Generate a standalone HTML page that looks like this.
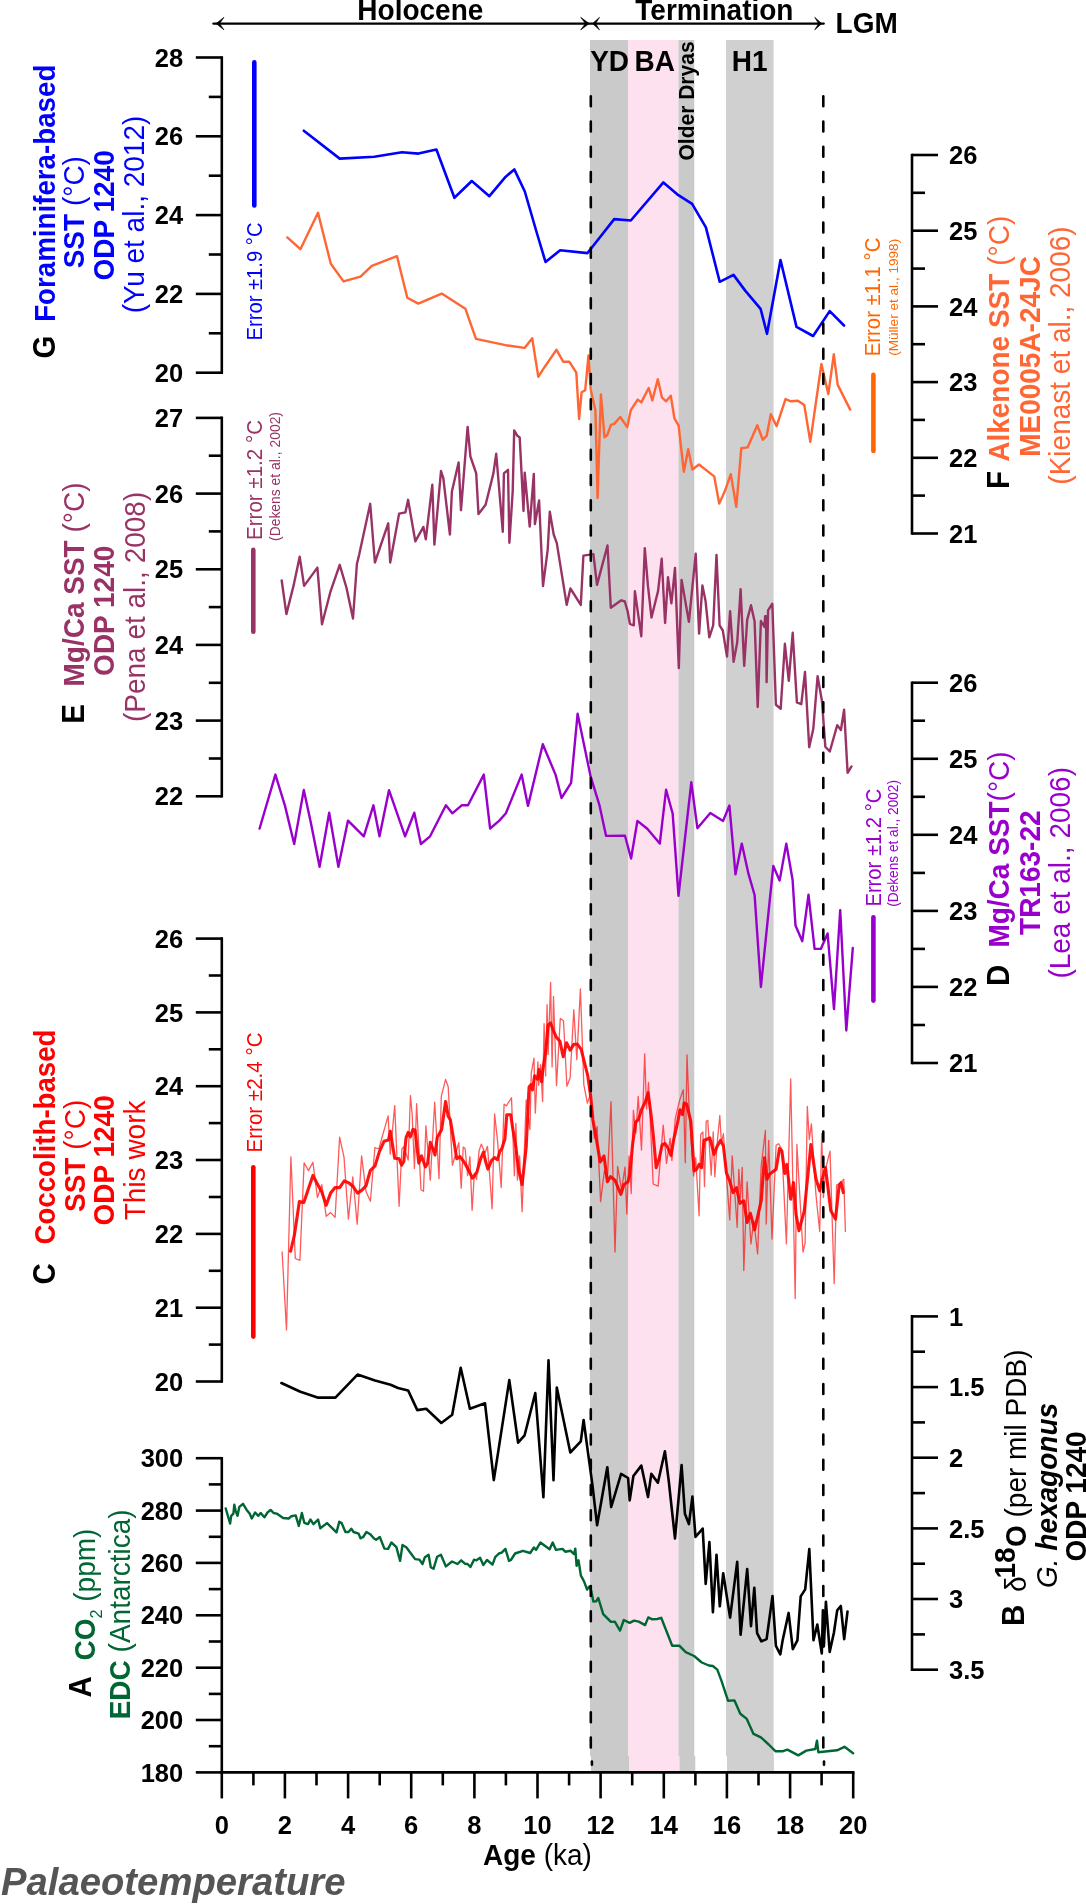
<!DOCTYPE html>
<html><head><meta charset="utf-8"><style>html,body{margin:0;padding:0;background:#fff;overflow:hidden;}svg{display:block;will-change:transform;}</style></head><body>
<svg width="1086" height="1904" viewBox="0 0 1086 1904" font-family='"Liberation Sans", sans-serif'>
<rect x="0" y="0" width="1086" height="1904" fill="#ffffff"/>
<rect x="590.0" y="40.0" width="38.0" height="1716.0" fill="#CACACA"/>
<rect x="591.0" y="1756.0" width="38.0" height="15.0" fill="#CACACA"/>
<rect x="628.0" y="40.0" width="50.5" height="1716.0" fill="#FDE1EF"/>
<rect x="629.0" y="1756.0" width="50.5" height="15.0" fill="#FDE1EF"/>
<rect x="678.5" y="40.0" width="15.8" height="1716.0" fill="#CACACA"/>
<rect x="679.5" y="1756.0" width="15.8" height="15.0" fill="#CACACA"/>
<rect x="726.0" y="40.0" width="47.6" height="1716.0" fill="#D0D0D0"/>
<rect x="727.0" y="1756.0" width="46.9" height="15.0" fill="#D0D0D0"/>
<polyline points="303.8,130.7 339.7,158.6 374.3,156.7 401.9,152.3 418.5,153.6 436.4,149.5 454.4,197.8 471.8,181.0 489.4,196.2 505.5,176.9 514.3,169.4 524.8,191.5 537.0,233.5 545.5,261.9 560.2,250.3 587.4,253.1 590.7,249.0 614.2,219.1 630.8,220.5 663.4,182.4 677.2,194.3 692.1,203.9 705.9,227.4 719.7,281.8 733.5,274.9 745.4,290.9 760.6,308.9 767.0,333.8 780.5,260.0 796.5,326.9 813.1,336.0 829.7,311.1 844.0,325.5" fill="none" stroke="#0000FF" stroke-width="2.6" stroke-linejoin="round" stroke-linecap="round"/>
<polyline points="287.3,237.4 300.4,249.2 318.0,212.8 330.8,263.8 343.5,281.4 360.5,276.6 371.8,265.9 397.0,256.2 407.3,297.8 418.3,303.6 441.7,293.6 465.4,308.8 476.0,338.9 505.5,345.2 524.6,347.9 532.2,338.3 538.3,376.8 543.5,368.6 556.5,349.8 563.2,361.7 569.3,361.7 576.3,372.6 579.1,419.0 581.6,392.2 585.2,390.2 588.5,355.4 590.7,389.4 595.4,410.1 597.6,498.0 600.9,394.4 604.5,437.2 607.3,435.0 610.9,424.8 614.2,423.9 620.3,417.0 627.2,427.2 630.8,410.1 637.7,399.6 641.3,402.4 648.7,388.0 652.3,400.4 657.8,379.2 662.0,397.7 666.1,401.3 670.8,395.7 674.4,418.4 678.6,425.3 683.8,471.7 688.2,449.3 692.4,469.5 699.0,464.5 714.2,476.4 719.2,503.5 724.7,491.6 730.8,474.2 736.3,506.8 741.3,448.2 747.6,447.4 757.3,425.3 762.8,439.7 766.7,435.8 770.8,414.3 776.6,426.1 785.5,399.1 791.0,401.3 797.9,400.7 804.3,405.1 810.3,441.9 821.4,364.0 828.3,394.1 833.8,354.3 837.7,384.9 850.2,409.6" fill="none" stroke="#FF6633" stroke-width="2.4" stroke-linejoin="round" stroke-linecap="round"/>
<polyline points="281.7,580.5 286.4,614.1 293.5,585.9 299.7,556.7 304.1,585.9 317.4,567.6 322.0,624.3 330.3,592.2 339.7,564.8 346.4,587.5 353.0,618.5 356.9,564.0 359.2,554.6 370.2,503.8 374.9,562.5 388.2,523.3 390.2,562.5 399.1,513.6 405.4,512.4 408.1,499.8 415.3,541.3 423.4,526.9 425.8,539.3 432.3,484.8 434.4,544.6 441.0,471.0 443.3,478.1 449.9,534.5 451.9,491.4 458.6,462.4 461.0,510.2 467.6,426.9 470.4,456.5 476.2,473.4 478.5,514.1 485.6,504.7 493.4,473.4 496.2,453.8 502.8,531.8 503.9,473.4 508.0,469.8 509.4,542.7 512.7,491.4 514.2,430.4 517.4,435.8 519.7,437.4 523.5,511.0 524.7,472.6 529.7,526.6 533.8,473.9 534.9,524.0 539.1,500.5 543.0,586.1 547.7,549.8 549.8,511.8 553.7,534.5 556.8,543.1 566.7,604.9 570.4,588.5 580.8,604.9 583.4,555.6 593.4,554.1 597.0,584.9 607.5,545.5 610.8,607.8 621.3,600.3 624.8,601.5 627.6,611.2 629.9,623.8 633.8,625.3 634.9,591.3 641.3,636.3 644.8,548.1 647.9,585.4 651.5,617.5 658.1,590.9 661.7,558.8 665.1,623.0 668.0,577.3 671.4,603.4 675.0,567.9 678.8,668.1 681.6,579.9 688.9,621.9 695.7,553.8 699.1,633.6 702.4,585.4 705.5,600.7 709.3,637.4 713.2,625.3 716.5,554.9 719.6,625.3 722.8,630.5 727.0,656.6 730.1,611.2 733.6,661.8 737.2,642.5 740.6,589.3 744.2,665.9 747.2,619.9 751.0,605.2 754.6,621.6 757.7,707.0 760.9,621.0 764.5,627.0 765.1,616.3 766.1,616.3 766.6,682.1 768.1,610.3 772.3,603.7 775.9,704.8 780.7,708.7 784.9,643.8 788.8,680.9 792.7,632.8 796.9,702.4 801.3,704.2 805.0,671.9 809.2,747.3 813.3,728.8 817.6,676.1 822.0,701.2 825.3,746.7 829.8,751.5 837.2,725.2 840.9,730.0 844.1,709.6 847.6,772.8 851.5,766.4" fill="none" stroke="#993366" stroke-width="2.4" stroke-linejoin="round" stroke-linecap="round"/>
<polyline points="259.6,828.5 275.4,774.6 285.0,805.9 294.2,844.0 303.8,789.9 310.8,822.5 319.6,866.7 329.2,812.7 338.4,866.7 348.0,820.6 363.8,836.3 373.4,805.3 379.5,836.3 389.0,790.2 405.1,836.3 414.3,812.7 420.9,844.0 430.1,836.3 445.9,805.3 452.3,813.3 461.7,805.3 468.0,805.3 483.8,774.6 490.1,828.5 499.3,820.6 505.9,813.3 521.6,774.6 528.0,805.9 542.8,744.2 555.7,775.1 561.5,798.0 571.1,782.9 577.6,713.8 590.6,776.4 599.3,804.6 606.1,835.9 625.0,835.8 631.1,858.5 637.4,820.9 647.3,828.7 659.8,843.6 666.1,789.7 672.7,813.8 678.5,895.8 691.3,782.3 697.4,828.2 710.3,812.9 723.1,820.9 729.4,805.5 735.5,874.3 741.8,843.6 748.5,873.9 754.6,895.0 760.9,987.0 767.9,918.2 773.3,866.0 779.6,880.6 786.3,843.6 792.6,880.0 795.5,925.6 802.3,941.2 808.5,894.6 814.6,948.9 820.8,948.9 827.6,933.4 834.0,1009.1 840.2,910.1 846.3,1030.5 852.8,948.0" fill="none" stroke="#9900CC" stroke-width="2.4" stroke-linejoin="round" stroke-linecap="round"/>
<polyline points="282.1,1251.9 286.5,1329.9 290.9,1156.8 295.3,1258.5 299.9,1260.3 304.1,1162.9 308.5,1170.6 312.9,1162.2 317.4,1197.5 321.8,1184.7 326.2,1216.3 330.6,1212.6 335.1,1217.4 339.6,1137.2 344.0,1157.1 348.4,1219.1 352.8,1176.9 357.2,1224.3 361.6,1155.9 366.0,1191.6 370.4,1201.2 374.9,1147.5 378.8,1149.0 388.1,1115.9 390.3,1154.1 394.7,1105.6 399.1,1206.3 401.9,1149.0 403.8,1146.8 408.2,1160.0 410.4,1095.6 412.2,1114.7 414.4,1168.4 416.6,1103.7 421.0,1189.7 423.5,1191.2 425.9,1125.7 430.3,1180.1 434.7,1102.2 439.0,1178.7 441.3,1096.3 445.6,1079.4 448.2,1086.8 452.4,1165.4 458.8,1142.6 461.2,1188.2 463.2,1147.1 465.1,1148.5 467.6,1175.7 469.9,1156.6 472.1,1210.3 474.4,1173.5 476.5,1179.4 479.1,1150.7 481.3,1144.1 485.0,1152.9 487.5,1146.3 492.1,1208.8 494.6,1114.0 497.5,1140.4 501.2,1187.5 504.1,1104.1 506.3,1105.9 511.5,1097.8 514.4,1175.7 515.9,1123.5 517.4,1180.1 519.6,1155.9 522.1,1211.8 526.2,1100.0 529.9,1129.4 531.3,1072.8 534.0,1058.1 535.3,1113.2 537.9,1061.8 538.7,1085.3 540.6,1064.7 542.6,1101.6 544.1,1023.7 545.6,1075.9 547.1,1004.6 548.1,1054.6 550.6,982.5 552.1,1067.1 553.5,996.5 556.5,1085.4 560.3,1018.5 563.5,1020.7 566.9,1086.2 570.1,1078.1 573.8,1009.7 576.8,1059.7 580.4,988.8 583.8,1084.7 587.4,1103.1 590.7,1093.5 594.4,1138.4 597.1,1126.6 600.6,1201.6 604.4,1170.7 607.4,1178.8 611.0,1101.6 615.0,1252.0 617.6,1166.3 621.6,1189.9 625.0,1167.1 626.8,1214.1 629.0,1156.0 631.2,1193.5 633.4,1110.4 635.9,1133.2 638.2,1096.5 641.5,1150.1 644.7,1053.8 646.6,1109.0 648.5,1082.5 653.2,1184.0 658.1,1186.2 663.2,1125.1 666.5,1163.4 670.1,1138.4 671.9,1160.4 675.3,1118.5 679.7,1100.1 683.3,1089.8 685.3,1162.7 687.0,1055.0 689.1,1108.0 693.6,1176.0 695.7,1157.7 699.1,1215.8 700.7,1134.5 702.9,1132.0 704.5,1186.7 706.2,1121.3 707.8,1120.4 711.2,1175.1 713.2,1132.0 714.8,1176.8 717.3,1142.0 719.8,1115.5 721.4,1142.8 723.4,1133.7 729.7,1219.9 732.2,1155.8 737.2,1227.4 738.8,1169.3 740.5,1197.5 742.2,1167.4 743.8,1270.5 747.1,1181.8 750.9,1243.9 753.8,1220.7 757.6,1253.9 761.2,1166.0 765.4,1130.4 766.2,1224.0 768.7,1140.3 772.0,1239.0 776.1,1145.3 778.6,1143.7 781.9,1149.5 786.4,1243.9 790.7,1079.0 795.2,1298.6 796.9,1144.5 803.0,1252.2 805.1,1243.1 807.3,1106.4 809.3,1139.5 811.4,1123.8 815.9,1194.2 819.7,1231.5 821.7,1133.7 823.4,1197.5 825.9,1167.7 830.0,1151.1 834.2,1283.7 836.6,1185.1 840.8,1182.6 843.8,1179.3 845.4,1231.5" fill="none" stroke="#FF0000" stroke-width="1.3" stroke-linejoin="round" stroke-linecap="round" stroke-opacity="0.65"/>
<polyline points="290.6,1251.2 294.3,1235.7 299.4,1201.5 303.8,1202.4 312.9,1175.4 317.1,1183.5 321.8,1192.1 326.2,1205.3 330.6,1193.1 335.1,1187.6 339.6,1187.6 344.3,1180.9 348.7,1182.8 353.1,1186.5 357.5,1193.1 361.9,1190.1 366.0,1185.7 370.4,1170.3 374.9,1166.2 379.3,1151.9 384.0,1141.3 388.4,1140.1 390.3,1131.3 394.7,1158.2 399.1,1158.8 401.6,1165.1 403.8,1161.5 406.0,1137.9 408.2,1132.4 410.4,1136.8 412.9,1129.4 415.1,1130.1 418.8,1163.2 421.5,1155.9 425.4,1166.9 427.6,1163.2 430.3,1142.4 432.8,1148.5 435.0,1155.1 437.2,1137.5 441.6,1129.7 445.6,1101.5 448.2,1116.2 450.4,1119.9 453.4,1138.2 456.8,1158.8 460.0,1156.6 464.4,1162.5 468.8,1170.6 472.5,1178.2 476.9,1172.1 480.6,1158.8 483.5,1152.2 485.7,1161.8 487.9,1169.1 491.6,1160.3 494.6,1157.6 497.5,1159.6 499.7,1151.5 501.9,1148.5 504.9,1139.0 506.8,1114.7 510.7,1114.7 512.9,1129.4 515.9,1147.8 518.5,1169.1 522.1,1184.6 526.2,1147.1 528.4,1100.0 529.1,1086.9 530.9,1084.7 532.4,1089.9 534.6,1075.9 537.6,1079.2 539.0,1069.6 541.6,1081.8 542.7,1070.7 545.7,1051.6 548.1,1025.1 550.6,1022.9 553.2,1030.3 556.2,1036.9 559.9,1041.3 563.2,1056.8 566.5,1042.8 570.1,1050.1 573.8,1044.3 577.5,1044.3 581.2,1049.4 584.1,1061.2 587.8,1075.9 590.7,1096.5 592.9,1120.0 595.6,1134.7 598.1,1149.4 600.3,1161.9 604.0,1156.0 607.4,1181.8 610.6,1176.6 615.0,1180.3 620.9,1194.3 623.8,1184.7 627.9,1181.8 629.7,1175.1 632.6,1144.3 635.6,1122.2 638.5,1119.3 641.5,1109.7 645.1,1102.4 648.1,1092.8 651.0,1114.1 653.2,1134.7 656.2,1167.8 659.1,1159.0 662.1,1145.0 665.0,1143.5 667.9,1147.9 670.9,1155.3 673.8,1139.1 677.5,1122.9 680.0,1109.7 682.5,1114.6 684.1,1103.0 686.6,1103.9 690.8,1121.3 694.1,1171.0 696.6,1169.3 699.1,1164.4 701.5,1167.7 704.0,1140.3 706.5,1139.5 709.8,1137.8 714.0,1154.4 716.8,1147.0 720.6,1140.3 723.4,1146.1 726.4,1172.7 729.7,1181.0 733.0,1192.6 736.4,1187.6 740.0,1203.3 743.8,1200.8 747.1,1222.4 750.4,1213.3 754.6,1229.8 761.2,1200.8 764.5,1157.7 767.0,1179.3 769.5,1174.3 776.1,1169.3 779.5,1148.6 781.9,1151.1 784.8,1173.5 786.9,1164.4 790.7,1199.2 793.5,1182.6 796.0,1214.1 799.0,1230.7 804.3,1210.8 810.9,1144.5 815.9,1178.5 819.7,1190.9 822.2,1179.3 825.5,1167.7 830.8,1210.8 835.5,1219.1 839.1,1185.9 841.1,1182.6 843.3,1192.6" fill="none" stroke="#FF0000" stroke-width="3.1" stroke-linejoin="round" stroke-linecap="round" stroke-opacity="0.92"/>
<polyline points="281.4,1383.0 300.4,1391.7 317.5,1397.6 335.4,1397.6 357.5,1374.6 375.0,1380.6 390.6,1384.7 398.0,1388.0 408.1,1390.4 417.3,1410.1 426.2,1408.8 441.3,1423.0 452.2,1414.7 460.7,1367.8 469.9,1408.8 485.0,1403.3 493.8,1480.1 509.3,1380.1 518.1,1442.7 524.6,1435.3 535.3,1393.0 543.4,1497.2 548.5,1360.4 553.5,1480.1 556.8,1387.5 570.3,1452.5 580.8,1441.4 583.6,1420.0 588.3,1454.8 592.4,1484.6 597.1,1525.3 607.3,1467.2 611.2,1507.0 621.1,1473.9 628.1,1478.0 629.7,1500.4 633.4,1476.0 641.3,1465.6 648.0,1497.1 651.3,1473.9 657.9,1482.7 664.9,1451.2 668.7,1480.5 675.0,1538.5 681.6,1465.1 684.9,1513.7 688.9,1524.1 692.4,1496.6 695.5,1536.9 702.7,1528.6 705.7,1583.9 709.4,1542.0 712.9,1612.1 716.5,1554.9 719.8,1606.3 723.2,1573.2 730.1,1617.6 737.2,1561.9 740.6,1634.8 747.2,1569.0 751.0,1626.2 754.3,1587.7 757.1,1633.2 761.3,1641.4 766.6,1639.1 772.5,1596.0 775.9,1645.8 780.3,1654.4 782.5,1641.1 788.6,1612.9 792.8,1649.1 797.4,1640.3 800.7,1596.4 805.2,1589.4 809.3,1549.1 813.5,1640.3 817.3,1624.5 821.8,1653.5 822.9,1610.4 823.9,1646.1 825.9,1601.7 829.7,1651.9 833.9,1632.8 837.2,1610.4 840.8,1606.0 844.2,1639.1 847.5,1611.6" fill="none" stroke="#000" stroke-width="2.6" stroke-linejoin="round" stroke-linecap="round"/>
<polyline points="225.7,1508.4 230.1,1523.5 231.2,1515.8 233.4,1513.6 234.3,1504.7 235.6,1510.6 237.5,1515.8 239.3,1506.9 243.0,1503.8 246.7,1509.9 249.6,1513.6 251.8,1518.5 255.1,1512.5 258.3,1515.8 260.7,1513.0 264.4,1517.3 267.5,1512.5 270.6,1509.9 273.6,1513.0 276.7,1513.6 283.1,1518.0 288.7,1518.5 291.4,1516.2 295.7,1515.4 298.8,1525.9 301.9,1513.0 304.3,1522.8 308.0,1524.1 310.4,1519.5 313.5,1524.1 318.1,1519.5 320.3,1528.3 327.0,1523.1 331.9,1527.8 336.5,1532.4 339.3,1521.7 341.7,1523.1 345.4,1532.0 348.5,1532.0 351.3,1528.7 353.5,1532.0 358.6,1533.6 360.5,1538.3 363.2,1537.0 366.4,1532.0 370.6,1534.6 374.3,1538.8 376.1,1539.7 379.8,1537.0 384.4,1548.6 388.1,1548.9 391.4,1542.5 396.4,1547.1 400.1,1560.9 402.5,1544.9 406.5,1547.5 409.6,1551.7 415.1,1559.1 419.4,1559.6 422.5,1564.0 424.9,1557.2 428.6,1554.8 430.8,1567.3 433.5,1568.8 437.2,1556.7 440.9,1554.8 445.9,1566.4 452.0,1561.5 457.5,1564.0 461.2,1560.3 464.9,1563.7 467.6,1564.0 470.4,1567.0 474.1,1559.6 476.5,1560.3 480.1,1557.8 483.3,1565.1 487.0,1560.0 492.5,1564.6 495.2,1557.2 498.9,1553.5 501.7,1552.6 505.4,1548.9 509.0,1560.9 510.9,1560.0 515.1,1553.5 522.9,1550.8 530.2,1553.0 533.9,1547.5 536.1,1549.9 540.4,1542.5 549.6,1549.3 552.7,1542.5 556.0,1549.9 562.5,1548.9 565.2,1551.7 570.7,1550.8 574.1,1554.1 575.3,1548.6 576.6,1565.9 578.5,1560.3 580.9,1575.6 583.3,1579.9 584.5,1582.6 587.1,1589.7 589.3,1586.4 591.3,1590.9 593.3,1601.5 596.1,1601.3 598.3,1598.0 603.2,1614.1 610.9,1621.9 614.8,1621.6 620.0,1630.6 623.8,1620.0 629.6,1622.9 634.1,1620.6 638.7,1621.6 645.1,1625.1 648.3,1617.4 652.2,1619.3 657.4,1619.0 661.2,1617.8 672.2,1645.7 679.3,1645.7 685.7,1652.2 694.1,1656.0 701.8,1662.5 708.9,1665.5 712.8,1666.0 717.3,1669.6 721.5,1680.9 728.1,1700.8 734.5,1700.4 740.3,1713.8 746.8,1718.9 753.5,1733.9 760.9,1737.4 768.7,1744.5 775.4,1751.2 783.1,1751.2 787.4,1749.6 798.3,1755.4 806.3,1750.6 815.3,1749.0 817.0,1740.6 818.3,1752.2 837.0,1750.3 844.5,1746.8 853.1,1753.2" fill="none" stroke="#006633" stroke-width="2.4" stroke-linejoin="round" stroke-linecap="round"/>
<line x1="590.8" y1="96.4" x2="590.8" y2="1750" stroke="#000" stroke-width="2.6" stroke-linecap="round" stroke-dasharray="9.75 15.5"/>
<line x1="591.9" y1="1761.6" x2="591.9" y2="1764.8" stroke="#000" stroke-width="2.6" stroke-linecap="round"/>
<line x1="823.3" y1="96.4" x2="823.3" y2="1750" stroke="#000" stroke-width="2.6" stroke-linecap="round" stroke-dasharray="9.75 15.5"/>
<line x1="824.0" y1="1761.6" x2="824.0" y2="1764.8" stroke="#000" stroke-width="2.6" stroke-linecap="round"/>
<line x1="254.3" y1="62.4" x2="254.3" y2="205.4" stroke="#0000FF" stroke-width="4.6" stroke-linecap="round"/>
<line x1="253.3" y1="549.9" x2="253.3" y2="631.7" stroke="#993366" stroke-width="4.6" stroke-linecap="round"/>
<line x1="253.3" y1="1167.2" x2="253.3" y2="1336.6" stroke="#FF0000" stroke-width="4.6" stroke-linecap="round"/>
<line x1="873.4" y1="374.8" x2="873.4" y2="451.0" stroke="#FF6600" stroke-width="4.6" stroke-linecap="round"/>
<line x1="873.4" y1="917.2" x2="873.4" y2="1000.6" stroke="#9900CC" stroke-width="4.6" stroke-linecap="round"/>
<line x1="221.8" y1="57.5" x2="221.8" y2="372.7" stroke="#000" stroke-width="2.6" fill="none" stroke-linecap="square"/>
<line x1="195.8" y1="57.5" x2="221.8" y2="57.5" stroke="#000" stroke-width="2.6" fill="none"/>
<line x1="195.8" y1="136.3" x2="221.8" y2="136.3" stroke="#000" stroke-width="2.6" fill="none"/>
<line x1="195.8" y1="215.1" x2="221.8" y2="215.1" stroke="#000" stroke-width="2.6" fill="none"/>
<line x1="195.8" y1="293.9" x2="221.8" y2="293.9" stroke="#000" stroke-width="2.6" fill="none"/>
<line x1="195.8" y1="372.7" x2="221.8" y2="372.7" stroke="#000" stroke-width="2.6" fill="none"/>
<line x1="208.8" y1="96.9" x2="221.8" y2="96.9" stroke="#000" stroke-width="2.6" fill="none"/>
<line x1="208.8" y1="175.7" x2="221.8" y2="175.7" stroke="#000" stroke-width="2.6" fill="none"/>
<line x1="208.8" y1="254.5" x2="221.8" y2="254.5" stroke="#000" stroke-width="2.6" fill="none"/>
<line x1="208.8" y1="333.3" x2="221.8" y2="333.3" stroke="#000" stroke-width="2.6" fill="none"/>
<text x="183.2" y="66.6" font-size="25.5" font-weight="bold" text-anchor="end">28</text>
<text x="183.2" y="145.4" font-size="25.5" font-weight="bold" text-anchor="end">26</text>
<text x="183.2" y="224.2" font-size="25.5" font-weight="bold" text-anchor="end">24</text>
<text x="183.2" y="303.0" font-size="25.5" font-weight="bold" text-anchor="end">22</text>
<text x="183.2" y="381.8" font-size="25.5" font-weight="bold" text-anchor="end">20</text>
<line x1="221.8" y1="417.9" x2="221.8" y2="796.3" stroke="#000" stroke-width="2.6" fill="none" stroke-linecap="square"/>
<line x1="195.8" y1="796.3" x2="221.8" y2="796.3" stroke="#000" stroke-width="2.6" fill="none"/>
<line x1="195.8" y1="720.6" x2="221.8" y2="720.6" stroke="#000" stroke-width="2.6" fill="none"/>
<line x1="195.8" y1="644.9" x2="221.8" y2="644.9" stroke="#000" stroke-width="2.6" fill="none"/>
<line x1="195.8" y1="569.3" x2="221.8" y2="569.3" stroke="#000" stroke-width="2.6" fill="none"/>
<line x1="195.8" y1="493.6" x2="221.8" y2="493.6" stroke="#000" stroke-width="2.6" fill="none"/>
<line x1="195.8" y1="417.9" x2="221.8" y2="417.9" stroke="#000" stroke-width="2.6" fill="none"/>
<line x1="208.8" y1="758.5" x2="221.8" y2="758.5" stroke="#000" stroke-width="2.6" fill="none"/>
<line x1="208.8" y1="682.8" x2="221.8" y2="682.8" stroke="#000" stroke-width="2.6" fill="none"/>
<line x1="208.8" y1="607.1" x2="221.8" y2="607.1" stroke="#000" stroke-width="2.6" fill="none"/>
<line x1="208.8" y1="531.4" x2="221.8" y2="531.4" stroke="#000" stroke-width="2.6" fill="none"/>
<line x1="208.8" y1="455.7" x2="221.8" y2="455.7" stroke="#000" stroke-width="2.6" fill="none"/>
<text x="183.2" y="427.0" font-size="25.5" font-weight="bold" text-anchor="end">27</text>
<text x="183.2" y="502.7" font-size="25.5" font-weight="bold" text-anchor="end">26</text>
<text x="183.2" y="578.4" font-size="25.5" font-weight="bold" text-anchor="end">25</text>
<text x="183.2" y="654.0" font-size="25.5" font-weight="bold" text-anchor="end">24</text>
<text x="183.2" y="729.7" font-size="25.5" font-weight="bold" text-anchor="end">23</text>
<text x="183.2" y="805.4" font-size="25.5" font-weight="bold" text-anchor="end">22</text>
<line x1="221.8" y1="938.6" x2="221.8" y2="1381.5" stroke="#000" stroke-width="2.6" fill="none" stroke-linecap="square"/>
<line x1="195.8" y1="1381.5" x2="221.8" y2="1381.5" stroke="#000" stroke-width="2.6" fill="none"/>
<line x1="195.8" y1="1307.7" x2="221.8" y2="1307.7" stroke="#000" stroke-width="2.6" fill="none"/>
<line x1="195.8" y1="1233.9" x2="221.8" y2="1233.9" stroke="#000" stroke-width="2.6" fill="none"/>
<line x1="195.8" y1="1160.0" x2="221.8" y2="1160.0" stroke="#000" stroke-width="2.6" fill="none"/>
<line x1="195.8" y1="1086.2" x2="221.8" y2="1086.2" stroke="#000" stroke-width="2.6" fill="none"/>
<line x1="195.8" y1="1012.4" x2="221.8" y2="1012.4" stroke="#000" stroke-width="2.6" fill="none"/>
<line x1="195.8" y1="938.6" x2="221.8" y2="938.6" stroke="#000" stroke-width="2.6" fill="none"/>
<line x1="208.8" y1="1344.6" x2="221.8" y2="1344.6" stroke="#000" stroke-width="2.6" fill="none"/>
<line x1="208.8" y1="1270.8" x2="221.8" y2="1270.8" stroke="#000" stroke-width="2.6" fill="none"/>
<line x1="208.8" y1="1197.0" x2="221.8" y2="1197.0" stroke="#000" stroke-width="2.6" fill="none"/>
<line x1="208.8" y1="1123.1" x2="221.8" y2="1123.1" stroke="#000" stroke-width="2.6" fill="none"/>
<line x1="208.8" y1="1049.3" x2="221.8" y2="1049.3" stroke="#000" stroke-width="2.6" fill="none"/>
<line x1="208.8" y1="975.5" x2="221.8" y2="975.5" stroke="#000" stroke-width="2.6" fill="none"/>
<text x="183.2" y="947.7" font-size="25.5" font-weight="bold" text-anchor="end">26</text>
<text x="183.2" y="1021.5" font-size="25.5" font-weight="bold" text-anchor="end">25</text>
<text x="183.2" y="1095.3" font-size="25.5" font-weight="bold" text-anchor="end">24</text>
<text x="183.2" y="1169.1" font-size="25.5" font-weight="bold" text-anchor="end">23</text>
<text x="183.2" y="1243.0" font-size="25.5" font-weight="bold" text-anchor="end">22</text>
<text x="183.2" y="1316.8" font-size="25.5" font-weight="bold" text-anchor="end">21</text>
<text x="183.2" y="1390.6" font-size="25.5" font-weight="bold" text-anchor="end">20</text>
<line x1="221.8" y1="1458.2" x2="221.8" y2="1772.4" stroke="#000" stroke-width="2.6" fill="none" stroke-linecap="square"/>
<line x1="195.8" y1="1772.4" x2="221.8" y2="1772.4" stroke="#000" stroke-width="2.6" fill="none"/>
<line x1="195.8" y1="1720.0" x2="221.8" y2="1720.0" stroke="#000" stroke-width="2.6" fill="none"/>
<line x1="195.8" y1="1667.7" x2="221.8" y2="1667.7" stroke="#000" stroke-width="2.6" fill="none"/>
<line x1="195.8" y1="1615.3" x2="221.8" y2="1615.3" stroke="#000" stroke-width="2.6" fill="none"/>
<line x1="195.8" y1="1562.9" x2="221.8" y2="1562.9" stroke="#000" stroke-width="2.6" fill="none"/>
<line x1="195.8" y1="1510.6" x2="221.8" y2="1510.6" stroke="#000" stroke-width="2.6" fill="none"/>
<line x1="195.8" y1="1458.2" x2="221.8" y2="1458.2" stroke="#000" stroke-width="2.6" fill="none"/>
<line x1="208.8" y1="1746.2" x2="221.8" y2="1746.2" stroke="#000" stroke-width="2.6" fill="none"/>
<line x1="208.8" y1="1693.9" x2="221.8" y2="1693.9" stroke="#000" stroke-width="2.6" fill="none"/>
<line x1="208.8" y1="1641.5" x2="221.8" y2="1641.5" stroke="#000" stroke-width="2.6" fill="none"/>
<line x1="208.8" y1="1589.1" x2="221.8" y2="1589.1" stroke="#000" stroke-width="2.6" fill="none"/>
<line x1="208.8" y1="1536.8" x2="221.8" y2="1536.8" stroke="#000" stroke-width="2.6" fill="none"/>
<line x1="208.8" y1="1484.4" x2="221.8" y2="1484.4" stroke="#000" stroke-width="2.6" fill="none"/>
<text x="183.2" y="1467.3" font-size="25.5" font-weight="bold" text-anchor="end">300</text>
<text x="183.2" y="1519.7" font-size="25.5" font-weight="bold" text-anchor="end">280</text>
<text x="183.2" y="1572.0" font-size="25.5" font-weight="bold" text-anchor="end">260</text>
<text x="183.2" y="1624.4" font-size="25.5" font-weight="bold" text-anchor="end">240</text>
<text x="183.2" y="1676.8" font-size="25.5" font-weight="bold" text-anchor="end">220</text>
<text x="183.2" y="1729.1" font-size="25.5" font-weight="bold" text-anchor="end">200</text>
<text x="183.2" y="1781.5" font-size="25.5" font-weight="bold" text-anchor="end">180</text>
<line x1="912.0" y1="155.0" x2="912.0" y2="533.5" stroke="#000" stroke-width="2.6" fill="none" stroke-linecap="square"/>
<line x1="912.0" y1="533.5" x2="938.0" y2="533.5" stroke="#000" stroke-width="2.6" fill="none"/>
<line x1="912.0" y1="457.8" x2="938.0" y2="457.8" stroke="#000" stroke-width="2.6" fill="none"/>
<line x1="912.0" y1="382.1" x2="938.0" y2="382.1" stroke="#000" stroke-width="2.6" fill="none"/>
<line x1="912.0" y1="306.4" x2="938.0" y2="306.4" stroke="#000" stroke-width="2.6" fill="none"/>
<line x1="912.0" y1="230.7" x2="938.0" y2="230.7" stroke="#000" stroke-width="2.6" fill="none"/>
<line x1="912.0" y1="155.0" x2="938.0" y2="155.0" stroke="#000" stroke-width="2.6" fill="none"/>
<line x1="912.0" y1="495.6" x2="925.0" y2="495.6" stroke="#000" stroke-width="2.6" fill="none"/>
<line x1="912.0" y1="419.9" x2="925.0" y2="419.9" stroke="#000" stroke-width="2.6" fill="none"/>
<line x1="912.0" y1="344.2" x2="925.0" y2="344.2" stroke="#000" stroke-width="2.6" fill="none"/>
<line x1="912.0" y1="268.6" x2="925.0" y2="268.6" stroke="#000" stroke-width="2.6" fill="none"/>
<line x1="912.0" y1="192.8" x2="925.0" y2="192.8" stroke="#000" stroke-width="2.6" fill="none"/>
<text x="949.0" y="164.1" font-size="25.5" font-weight="bold" text-anchor="start">26</text>
<text x="949.0" y="239.8" font-size="25.5" font-weight="bold" text-anchor="start">25</text>
<text x="949.0" y="315.5" font-size="25.5" font-weight="bold" text-anchor="start">24</text>
<text x="949.0" y="391.2" font-size="25.5" font-weight="bold" text-anchor="start">23</text>
<text x="949.0" y="466.9" font-size="25.5" font-weight="bold" text-anchor="start">22</text>
<text x="949.0" y="542.6" font-size="25.5" font-weight="bold" text-anchor="start">21</text>
<line x1="912.0" y1="682.7" x2="912.0" y2="1063.0" stroke="#000" stroke-width="2.6" fill="none" stroke-linecap="square"/>
<line x1="912.0" y1="1063.0" x2="938.0" y2="1063.0" stroke="#000" stroke-width="2.6" fill="none"/>
<line x1="912.0" y1="986.9" x2="938.0" y2="986.9" stroke="#000" stroke-width="2.6" fill="none"/>
<line x1="912.0" y1="910.9" x2="938.0" y2="910.9" stroke="#000" stroke-width="2.6" fill="none"/>
<line x1="912.0" y1="834.8" x2="938.0" y2="834.8" stroke="#000" stroke-width="2.6" fill="none"/>
<line x1="912.0" y1="758.8" x2="938.0" y2="758.8" stroke="#000" stroke-width="2.6" fill="none"/>
<line x1="912.0" y1="682.7" x2="938.0" y2="682.7" stroke="#000" stroke-width="2.6" fill="none"/>
<line x1="912.0" y1="1025.0" x2="925.0" y2="1025.0" stroke="#000" stroke-width="2.6" fill="none"/>
<line x1="912.0" y1="948.9" x2="925.0" y2="948.9" stroke="#000" stroke-width="2.6" fill="none"/>
<line x1="912.0" y1="872.9" x2="925.0" y2="872.9" stroke="#000" stroke-width="2.6" fill="none"/>
<line x1="912.0" y1="796.8" x2="925.0" y2="796.8" stroke="#000" stroke-width="2.6" fill="none"/>
<line x1="912.0" y1="720.7" x2="925.0" y2="720.7" stroke="#000" stroke-width="2.6" fill="none"/>
<text x="949.0" y="691.8" font-size="25.5" font-weight="bold" text-anchor="start">26</text>
<text x="949.0" y="767.9" font-size="25.5" font-weight="bold" text-anchor="start">25</text>
<text x="949.0" y="843.9" font-size="25.5" font-weight="bold" text-anchor="start">24</text>
<text x="949.0" y="920.0" font-size="25.5" font-weight="bold" text-anchor="start">23</text>
<text x="949.0" y="996.0" font-size="25.5" font-weight="bold" text-anchor="start">22</text>
<text x="949.0" y="1072.1" font-size="25.5" font-weight="bold" text-anchor="start">21</text>
<line x1="912.0" y1="1316.4" x2="912.0" y2="1669.7" stroke="#000" stroke-width="2.6" fill="none" stroke-linecap="square"/>
<line x1="912.0" y1="1316.4" x2="938.0" y2="1316.4" stroke="#000" stroke-width="2.6" fill="none"/>
<line x1="912.0" y1="1387.1" x2="938.0" y2="1387.1" stroke="#000" stroke-width="2.6" fill="none"/>
<line x1="912.0" y1="1457.7" x2="938.0" y2="1457.7" stroke="#000" stroke-width="2.6" fill="none"/>
<line x1="912.0" y1="1528.4" x2="938.0" y2="1528.4" stroke="#000" stroke-width="2.6" fill="none"/>
<line x1="912.0" y1="1599.0" x2="938.0" y2="1599.0" stroke="#000" stroke-width="2.6" fill="none"/>
<line x1="912.0" y1="1669.7" x2="938.0" y2="1669.7" stroke="#000" stroke-width="2.6" fill="none"/>
<line x1="912.0" y1="1351.7" x2="925.0" y2="1351.7" stroke="#000" stroke-width="2.6" fill="none"/>
<line x1="912.0" y1="1422.4" x2="925.0" y2="1422.4" stroke="#000" stroke-width="2.6" fill="none"/>
<line x1="912.0" y1="1493.1" x2="925.0" y2="1493.1" stroke="#000" stroke-width="2.6" fill="none"/>
<line x1="912.0" y1="1563.7" x2="925.0" y2="1563.7" stroke="#000" stroke-width="2.6" fill="none"/>
<line x1="912.0" y1="1634.4" x2="925.0" y2="1634.4" stroke="#000" stroke-width="2.6" fill="none"/>
<text x="949.0" y="1325.5" font-size="25.5" font-weight="bold" text-anchor="start">1</text>
<text x="949.0" y="1396.2" font-size="25.5" font-weight="bold" text-anchor="start">1.5</text>
<text x="949.0" y="1466.8" font-size="25.5" font-weight="bold" text-anchor="start">2</text>
<text x="949.0" y="1537.5" font-size="25.5" font-weight="bold" text-anchor="start">2.5</text>
<text x="949.0" y="1608.1" font-size="25.5" font-weight="bold" text-anchor="start">3</text>
<text x="949.0" y="1678.8" font-size="25.5" font-weight="bold" text-anchor="start">3.5</text>
<line x1="221.8" y1="1772.4" x2="853.2" y2="1772.4" stroke="#000" stroke-width="2.6" fill="none" stroke-linecap="square"/>
<line x1="221.8" y1="1772.4" x2="221.8" y2="1798.4" stroke="#000" stroke-width="2.6" fill="none"/>
<line x1="253.4" y1="1772.4" x2="253.4" y2="1785.4" stroke="#000" stroke-width="2.6" fill="none"/>
<line x1="284.9" y1="1772.4" x2="284.9" y2="1798.4" stroke="#000" stroke-width="2.6" fill="none"/>
<line x1="316.5" y1="1772.4" x2="316.5" y2="1785.4" stroke="#000" stroke-width="2.6" fill="none"/>
<line x1="348.1" y1="1772.4" x2="348.1" y2="1798.4" stroke="#000" stroke-width="2.6" fill="none"/>
<line x1="379.7" y1="1772.4" x2="379.7" y2="1785.4" stroke="#000" stroke-width="2.6" fill="none"/>
<line x1="411.2" y1="1772.4" x2="411.2" y2="1798.4" stroke="#000" stroke-width="2.6" fill="none"/>
<line x1="442.8" y1="1772.4" x2="442.8" y2="1785.4" stroke="#000" stroke-width="2.6" fill="none"/>
<line x1="474.4" y1="1772.4" x2="474.4" y2="1798.4" stroke="#000" stroke-width="2.6" fill="none"/>
<line x1="505.9" y1="1772.4" x2="505.9" y2="1785.4" stroke="#000" stroke-width="2.6" fill="none"/>
<line x1="537.5" y1="1772.4" x2="537.5" y2="1798.4" stroke="#000" stroke-width="2.6" fill="none"/>
<line x1="569.1" y1="1772.4" x2="569.1" y2="1785.4" stroke="#000" stroke-width="2.6" fill="none"/>
<line x1="600.6" y1="1772.4" x2="600.6" y2="1798.4" stroke="#000" stroke-width="2.6" fill="none"/>
<line x1="632.2" y1="1772.4" x2="632.2" y2="1785.4" stroke="#000" stroke-width="2.6" fill="none"/>
<line x1="663.8" y1="1772.4" x2="663.8" y2="1798.4" stroke="#000" stroke-width="2.6" fill="none"/>
<line x1="695.4" y1="1772.4" x2="695.4" y2="1785.4" stroke="#000" stroke-width="2.6" fill="none"/>
<line x1="726.9" y1="1772.4" x2="726.9" y2="1798.4" stroke="#000" stroke-width="2.6" fill="none"/>
<line x1="758.5" y1="1772.4" x2="758.5" y2="1785.4" stroke="#000" stroke-width="2.6" fill="none"/>
<line x1="790.1" y1="1772.4" x2="790.1" y2="1798.4" stroke="#000" stroke-width="2.6" fill="none"/>
<line x1="821.6" y1="1772.4" x2="821.6" y2="1785.4" stroke="#000" stroke-width="2.6" fill="none"/>
<line x1="853.2" y1="1772.4" x2="853.2" y2="1798.4" stroke="#000" stroke-width="2.6" fill="none"/>
<text x="221.8" y="1834.2" font-size="25.5" font-weight="bold" text-anchor="middle">0</text>
<text x="284.9" y="1834.2" font-size="25.5" font-weight="bold" text-anchor="middle">2</text>
<text x="348.1" y="1834.2" font-size="25.5" font-weight="bold" text-anchor="middle">4</text>
<text x="411.2" y="1834.2" font-size="25.5" font-weight="bold" text-anchor="middle">6</text>
<text x="474.4" y="1834.2" font-size="25.5" font-weight="bold" text-anchor="middle">8</text>
<text x="537.5" y="1834.2" font-size="25.5" font-weight="bold" text-anchor="middle">10</text>
<text x="600.6" y="1834.2" font-size="25.5" font-weight="bold" text-anchor="middle">12</text>
<text x="663.8" y="1834.2" font-size="25.5" font-weight="bold" text-anchor="middle">14</text>
<text x="726.9" y="1834.2" font-size="25.5" font-weight="bold" text-anchor="middle">16</text>
<text x="790.1" y="1834.2" font-size="25.5" font-weight="bold" text-anchor="middle">18</text>
<text x="853.2" y="1834.2" font-size="25.5" font-weight="bold" text-anchor="middle">20</text>
<text transform="translate(537.4,1864.8) scale(0.955,1)" font-size="29.32" font-weight="normal" fill="#000" text-anchor="middle"><tspan font-weight="bold">Age</tspan> (ka)</text>
<line x1="213.5" y1="23.6" x2="823.6" y2="23.6" stroke="#000" stroke-width="2.4" stroke-linecap="round"/>
<path d="M216.0,23.6 L224.0,17.3 L219.6,23.6 L224.0,29.900000000000002 Z" fill="#000" stroke="#000" stroke-width="0.6" stroke-linejoin="round"/>
<path d="M589.2,23.6 L580.7,17.3 L585.375,23.6 L580.7,29.900000000000002 Z" fill="#000" stroke="#000" stroke-width="0.6" stroke-linejoin="round"/>
<path d="M592.5,23.6 L599.5,17.3 L595.65,23.6 L599.5,29.900000000000002 Z" fill="#000" stroke="#000" stroke-width="0.6" stroke-linejoin="round"/>
<path d="M821.7,23.6 L814.7,17.3 L818.5500000000001,23.6 L814.7,29.900000000000002 Z" fill="#000" stroke="#000" stroke-width="0.6" stroke-linejoin="round"/>
<text transform="translate(420.3,20.4) scale(0.955,1)" font-size="29.32" font-weight="bold" fill="#000" text-anchor="middle">Holocene</text>
<text transform="translate(714.4,20.1) scale(0.955,1)" font-size="29.32" font-weight="bold" fill="#000" text-anchor="middle">Termination</text>
<text transform="translate(835.6,32.9) scale(0.955,1)" font-size="29.32" font-weight="bold" fill="#000" text-anchor="start">LGM</text>
<text transform="translate(609.6,71.0) scale(0.955,1)" font-size="29.32" font-weight="bold" fill="#000" text-anchor="middle">YD</text>
<text transform="translate(654.8,71.0) scale(0.955,1)" font-size="29.32" font-weight="bold" fill="#000" text-anchor="middle">BA</text>
<text transform="translate(749.7,71.0) scale(0.955,1)" font-size="29.32" font-weight="bold" fill="#000" text-anchor="middle">H1</text>
<text transform="translate(54.5,358.5) rotate(-90) scale(0.9550,1)" font-size="30.89" font-weight="bold" fill="#000" text-anchor="start">G</text>
<text transform="translate(54.5,321.8) rotate(-90) scale(0.9454,1)" font-size="29.32" font-weight="bold" fill="#0000FF" text-anchor="start">Foraminifera-based</text>
<text transform="translate(84.0,212.2) rotate(-90) scale(0.9550,1)" font-size="29.32" font-weight="normal" fill="#0000FF" text-anchor="middle"><tspan font-weight="bold">SST</tspan> (°C)</text>
<text transform="translate(114.1,215.4) rotate(-90) scale(0.9550,1)" font-size="29.32" font-weight="bold" fill="#0000FF" text-anchor="middle">ODP 1240</text>
<text transform="translate(144.4,214.5) rotate(-90) scale(0.9550,1)" font-size="29.32" font-weight="normal" fill="#0000FF" text-anchor="middle">(Yu et al., 2012)</text>
<text transform="translate(84.2,723.8) rotate(-90) scale(0.9550,1)" font-size="30.89" font-weight="bold" fill="#000" text-anchor="start">E</text>
<text transform="translate(84.2,686.5) rotate(-90) scale(0.9550,1)" font-size="29.32" font-weight="normal" fill="#993366" text-anchor="start"><tspan font-weight="bold">Mg/Ca SST</tspan> (°C)</text>
<text transform="translate(114.1,610.8) rotate(-90) scale(0.9550,1)" font-size="29.32" font-weight="bold" fill="#993366" text-anchor="middle">ODP 1240</text>
<text transform="translate(144.5,606.9) rotate(-90) scale(0.9550,1)" font-size="29.32" font-weight="normal" fill="#993366" text-anchor="middle">(Pena et al., 2008)</text>
<text transform="translate(54.8,1284.5) rotate(-90) scale(0.9550,1)" font-size="30.89" font-weight="bold" fill="#000" text-anchor="start">C</text>
<text transform="translate(54.8,1244.5) rotate(-90) scale(0.9426,1)" font-size="29.32" font-weight="bold" fill="#FF0000" text-anchor="start">Coccolith-based</text>
<text transform="translate(84.5,1155.9) rotate(-90) scale(0.9550,1)" font-size="29.32" font-weight="normal" fill="#FF0000" text-anchor="middle"><tspan font-weight="bold">SST</tspan> (°C)</text>
<text transform="translate(114.1,1160.4) rotate(-90) scale(0.9550,1)" font-size="29.32" font-weight="bold" fill="#FF0000" text-anchor="middle">ODP 1240</text>
<text transform="translate(144.5,1160.4) rotate(-90) scale(0.9550,1)" font-size="29.32" font-weight="normal" fill="#FF0000" text-anchor="middle">This work</text>
<text transform="translate(90.7,1697.5) rotate(-90) scale(0.9550,1)" font-size="30.89" font-weight="bold" fill="#000" text-anchor="start">A</text>
<text transform="translate(95.3,1660.5) rotate(-90) scale(0.9550,1)" font-size="29.32" font-weight="normal" fill="#006633" text-anchor="start"><tspan font-weight="bold">CO</tspan><tspan font-size="17" dy="6.7">2</tspan><tspan dy="-6.7"> (ppm)</tspan></text>
<text transform="translate(129.7,1719.3) rotate(-90) scale(0.9550,1)" font-size="29.32" font-weight="normal" fill="#006633" text-anchor="start"><tspan font-weight="bold">EDC</tspan> (Antarctica)</text>
<text transform="translate(1009.0,489.0) rotate(-90) scale(0.9550,1)" font-size="30.89" font-weight="bold" fill="#000" text-anchor="start">F</text>
<text transform="translate(1009.0,461.8) rotate(-90) scale(0.9550,1)" font-size="29.32" font-weight="normal" fill="#FF6633" text-anchor="start"><tspan font-weight="bold">Alkenone SST</tspan> (°C)</text>
<text transform="translate(1040.0,356.5) rotate(-90) scale(0.9550,1)" font-size="29.32" font-weight="bold" fill="#FF6633" text-anchor="middle">ME0005A-24JC</text>
<text transform="translate(1070.0,355.5) rotate(-90) scale(0.9550,1)" font-size="29.32" font-weight="normal" fill="#FF6633" text-anchor="middle">(Kienast et al., 2006)</text>
<text transform="translate(1009.0,986.0) rotate(-90) scale(0.9550,1)" font-size="30.89" font-weight="bold" fill="#000" text-anchor="start">D</text>
<text transform="translate(1009.0,947.6) rotate(-90) scale(0.9550,1)" font-size="29.32" font-weight="normal" fill="#9900CC" text-anchor="start"><tspan font-weight="bold">Mg/Ca SST</tspan>(°C)</text>
<text transform="translate(1040.0,872.7) rotate(-90) scale(0.9550,1)" font-size="29.32" font-weight="bold" fill="#9900CC" text-anchor="middle">TR163-22</text>
<text transform="translate(1070.0,872.8) rotate(-90) scale(0.9550,1)" font-size="29.32" font-weight="normal" fill="#9900CC" text-anchor="middle">(Lea et al., 2006)</text>
<text transform="translate(1023.5,1626.0) rotate(-90) scale(0.9550,1)" font-size="30.89" font-weight="bold" fill="#000" text-anchor="start">B</text>
<text transform="translate(1025.5,1592.0) rotate(-90) scale(0.9550,1)" font-size="29.32" font-weight="normal" fill="#000" text-anchor="start">δ</text>
<text transform="translate(1015.0,1578.5) rotate(-90) scale(0.9550,1)" font-size="29.32" font-weight="bold" fill="#000" text-anchor="start">18</text>
<text transform="translate(1025.5,1547.0) rotate(-90) scale(0.9550,1)" font-size="29.32" font-weight="bold" fill="#000" text-anchor="start">O</text>
<text transform="translate(1025.5,1517.5) rotate(-90) scale(0.9550,1)" font-size="29.32" font-weight="normal" fill="#000" text-anchor="start">(per mil PDB)</text>
<text transform="translate(1057.0,1588.0) rotate(-90) scale(0.9550,1)" font-size="29.32" font-weight="normal" fill="#000" text-anchor="start" font-style="italic">G. <tspan font-weight="bold">hexagonus</tspan></text>
<text transform="translate(1085.8,1496.5) rotate(-90) scale(0.9550,1)" font-size="29.32" font-weight="bold" fill="#000" text-anchor="middle">ODP 1240</text>
<text transform="translate(262.3,340.5) rotate(-90)" font-size="22" font-weight="normal" fill="#0000FF" text-anchor="start" textLength="118" lengthAdjust="spacingAndGlyphs">Error ±1.9 °C</text>
<text transform="translate(262.3,540.0) rotate(-90)" font-size="22" font-weight="normal" fill="#993366" text-anchor="start" textLength="120" lengthAdjust="spacingAndGlyphs">Error ±1.2 °C</text>
<text transform="translate(280.0,541.0) rotate(-90)" font-size="14.5" font-weight="normal" fill="#993366" text-anchor="start" textLength="129" lengthAdjust="spacingAndGlyphs">(Dekens et al., 2002)</text>
<text transform="translate(262.3,1152.5) rotate(-90)" font-size="22" font-weight="normal" fill="#FF0000" text-anchor="start" textLength="120" lengthAdjust="spacingAndGlyphs">Error ±2.4 °C</text>
<text transform="translate(880.1,356.2) rotate(-90)" font-size="22" font-weight="normal" fill="#FF6600" text-anchor="start" textLength="118.5" lengthAdjust="spacingAndGlyphs">Error ±1.1 °C</text>
<text transform="translate(898.2,355.8) rotate(-90)" font-size="12.8" font-weight="normal" fill="#FF6600" text-anchor="start" textLength="117" lengthAdjust="spacingAndGlyphs">(Müller et al., 1998)</text>
<text transform="translate(880.9,906.6) rotate(-90)" font-size="22" font-weight="normal" fill="#9900CC" text-anchor="start" textLength="118" lengthAdjust="spacingAndGlyphs">Error ±1.2 °C</text>
<text transform="translate(898.2,906.7) rotate(-90)" font-size="14.5" font-weight="normal" fill="#9900CC" text-anchor="start" textLength="126.7" lengthAdjust="spacingAndGlyphs">(Dekens et al., 2002)</text>
<text transform="translate(693.9,160.5) rotate(-90) scale(0.9550,1)" font-size="21.99" font-weight="bold" fill="#000" text-anchor="start">Older Dryas</text>
<text x="1" y="1894.7" font-size="38" font-weight="bold" font-style="italic" fill="#555555" textLength="344.5" lengthAdjust="spacingAndGlyphs">Palaeotemperature</text>
</svg>
</body></html>
